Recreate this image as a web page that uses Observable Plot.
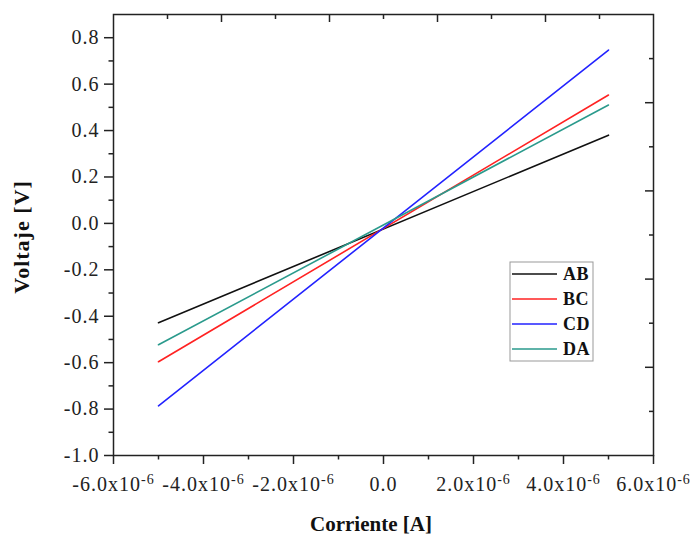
<!DOCTYPE html>
<html><head><meta charset="utf-8">
<script src="https://cdn.jsdelivr.net/npm/d3@7"></script>
<script src="https://cdn.jsdelivr.net/npm/@observablehq/plot@0.6"></script>
<style>
body{margin:0;background:#fff}
svg text{font-family:"Liberation Serif","Times New Roman",serif}
g[aria-label="x-axis tick label"] text, g[aria-label="y-axis tick label"] text{letter-spacing:1px}
</style></head><body><div id="chart"></div>
<script>
// Data
const current = [-5e-6, 5e-6];
const seriesNames = ["AB", "BC", "CD", "DA"];
const voltAB = [-0.428, 0.380];
const voltBC = [-0.596, 0.553];
const voltCD = [-0.786, 0.747];
const voltDA = [-0.523, 0.510];
const seriesColors = ["#111111", "#ff2222", "#2222ff", "#2a9a8c"];

const xMajorTicks = [-6e-6, -4e-6, -2e-6, 0, 2e-6, 4e-6, 6e-6];
const xMinorTicks = [-5e-6, -3e-6, -1e-6, 1e-6, 3e-6, 5e-6];
const yMajorTicks = [-1.0, -0.8, -0.6, -0.4, -0.2, 0.0, 0.2, 0.4, 0.6, 0.8];
const yMinorTicks = [-0.9, -0.7, -0.5, -0.3, -0.1, 0.1, 0.3, 0.5, 0.7];
const topLongTicks = [-3.6e-6, -1.2e-6, 1.2e-6, 3.6e-6];
const topShortTicks = [-4.8e-6, -2.4e-6, 0, 2.4e-6, 4.8e-6];
const rightLongTicks = [-0.62, -0.24, 0.14, 0.52];
const rightShortTicks = [-0.81, -0.43, -0.05, 0.33, 0.71];
const xExponent = "-6";

const volts = [voltAB, voltBC, voltCD, voltDA];
const data = seriesNames.flatMap((s, i) => current.map((c, j) => ({series: s, current: c, voltage: volts[i][j]})));

const W = 691, H = 536, mL = 113, mR = 38, mT = 14, mB = 81;
const innerW = W - mL - mR, innerH = H - mT - mB;
const ink = "#222";

const fmtX = d => Math.abs(d) < 1e-12 ? "0.0" : (d < 0 ? "-" : "") + (Math.abs(d) * 1e6).toFixed(1) + "x10";
const fmtY = d => (Math.abs(d) < 1e-9 ? 0 : d).toFixed(1);

const plot = Plot.plot({
  width: W, height: H,
  marginLeft: mL, marginRight: mR, marginTop: mT, marginBottom: mB,
  style: {fontFamily: '"Liberation Serif","Times New Roman",serif', fontSize: "20px", background: "#fff", color: ink},
  x: {domain: [-6e-6, 6e-6], label: null},
  y: {domain: [-1.0, 0.9], label: null},
  color: {domain: seriesNames, range: seriesColors},
  marks: [
    Plot.axisX({ticks: xMajorTicks, tickSize: 9, tickPadding: 12, tickFormat: fmtX, label: null, strokeWidth: 1.5}),
    Plot.axisX({ticks: xMinorTicks, tickSize: 4.5, tickFormat: () => "", label: null, strokeWidth: 1.5}),
    Plot.axisY({ticks: yMajorTicks, tickSize: 9, tickPadding: 5, tickFormat: fmtY, label: null, strokeWidth: 1.5}),
    Plot.axisY({ticks: yMinorTicks, tickSize: 4.5, tickFormat: () => "", label: null, strokeWidth: 1.5}),
    Plot.ruleX(topLongTicks, {insetBottom: innerH - 8, stroke: ink, strokeWidth: 1.5}),
    Plot.ruleX(topShortTicks, {insetBottom: innerH - 5, stroke: ink, strokeWidth: 1.5}),
    Plot.ruleY(rightLongTicks, {insetLeft: innerW - 8, stroke: ink, strokeWidth: 1.5}),
    Plot.ruleY(rightShortTicks, {insetLeft: innerW - 4, stroke: ink, strokeWidth: 1.5}),
    Plot.line(data, {x: "current", y: "voltage", z: "series", stroke: "series", strokeWidth: 1.6}),
    Plot.frame({stroke: ink, strokeWidth: 1.5})
  ]
});

document.getElementById("chart").appendChild(plot);
const svg = d3.select(plot);

// superscript exponents on x tick labels
svg.selectAll('g[aria-label="x-axis tick label"] text').each(function() {
  const t = d3.select(this);
  if (t.text() !== "0.0" && t.text() !== "") {
    t.append("tspan").attr("dy", "-0.5em").attr("font-size", "14px").text(xExponent);
  }
});

// axis titles
svg.append("text")
  .attr("transform", "translate(29,237) rotate(-90)")
  .attr("text-anchor", "middle")
  .attr("font-weight", "bold").attr("font-size", "22px").attr("letter-spacing", "1px")
  .attr("fill", "#111")
  .text("Voltaje [V]");
svg.append("text")
  .attr("x", 371).attr("y", 531)
  .attr("text-anchor", "middle")
  .attr("font-weight", "bold").attr("font-size", "21px")
  .attr("fill", "#111")
  .text("Corriente [A]");

// legend
const lg = svg.append("g").attr("transform", "translate(510,262)");
lg.append("rect").attr("width", 83).attr("height", 99).attr("fill", "#fff").attr("stroke", "#999").attr("stroke-width", 1);
seriesNames.forEach((s, i) => {
  const y = 12 + i * 25;
  lg.append("line").attr("x1", 2).attr("x2", 47).attr("y1", y).attr("y2", y)
    .attr("stroke", seriesColors[i]).attr("stroke-width", 1.6);
  lg.append("text").attr("x", 53).attr("y", y).attr("dy", "0.36em")
    .attr("text-anchor", "start")
    .attr("font-weight", "bold").attr("font-size", "18px").attr("letter-spacing", "0.5px")
    .attr("fill", "#111").text(s);
});
</script>
</body></html>
